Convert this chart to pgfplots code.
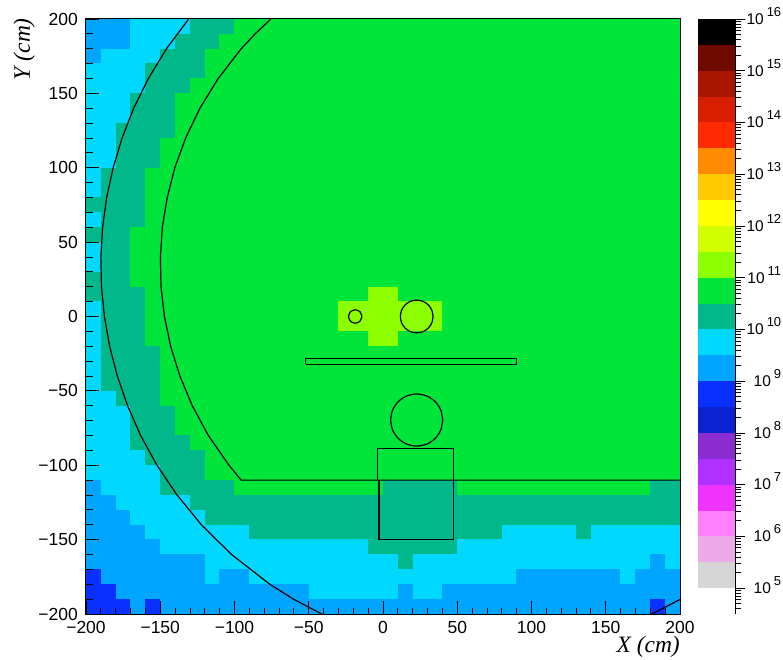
\documentclass[border=0pt]{standalone}
\usepackage{fontspec}
\setmainfont{Liberation Sans}
\newfontfamily\titlefont{Liberation Serif}
\usepackage{pgfplots}
\usepackage{pgfplotstable}
\pgfplotsset{compat=1.18}
\definecolor{b01}{RGB}{0,0,0}
\definecolor{b02}{RGB}{110,10,0}
\definecolor{b03}{RGB}{168,22,0}
\definecolor{b04}{RGB}{216,30,0}
\definecolor{b05}{RGB}{255,42,0}
\definecolor{b06}{RGB}{255,140,0}
\definecolor{b07}{RGB}{255,202,0}
\definecolor{b08}{RGB}{255,255,0}
\definecolor{b09}{RGB}{210,255,0}
\definecolor{b10}{RGB}{140,255,0}
\definecolor{b11}{RGB}{0,229,58}
\definecolor{b12}{RGB}{0,184,138}
\definecolor{b13}{RGB}{0,216,255}
\definecolor{b14}{RGB}{0,165,255}
\definecolor{b15}{RGB}{10,48,255}
\definecolor{b16}{RGB}{10,34,208}
\definecolor{b17}{RGB}{138,45,208}
\definecolor{b18}{RGB}{176,48,255}
\definecolor{b19}{RGB}{240,50,255}
\definecolor{b20}{RGB}{255,128,255}
\definecolor{b21}{RGB}{236,170,232}
\definecolor{b22}{RGB}{213,213,213}
\newcommand\dec[1]{\makebox[34pt][r]{10\hspace{3pt}\smash{\raisebox{8pt}{\fontsize{13}{13}\selectfont #1}}}}
\begin{document}
\begin{tikzpicture}
\path[use as bounding box] (0,0) rectangle (783pt,659pt);
\begin{axis}[
  at={(86pt,45pt)}, anchor=south west, scale only axis,
  width=594pt, height=595pt,
  xmin=-200, xmax=200, ymin=-200, ymax=200,
  xtick={-200,-150,-100,-50,0,50,100,150,200},
  xticklabels={−200,−150,−100,−50,0,50,100,150,200},
  ytick={-200,-150,-100,-50,0,50,100,150,200},
  yticklabels={−200,−150,−100,−50,0,50,100,150,200},
  minor x tick num=4, minor y tick num=4,
  xtick pos=bottom, ytick pos=left,
  tick align=inside,
  major tick length=13pt, minor tick length=6.5pt,
  tick style={black, line width=0.9pt},
  axis line style={black, line width=1pt},
  axis on top,
  ticklabel style={font=\fontsize{17.5}{18}\selectfont},
  xticklabel style={inner sep=0pt, yshift=-7pt},
  yticklabel style={inner sep=0pt, xshift=-8pt},
  xlabel={\titlefont\itshape X (cm)},
  ylabel={\titlefont\itshape Y (cm)},
  label style={font=\fontsize{23.5}{24}\selectfont, inner sep=0pt},
  xlabel style={at={(axis description cs:1,0)}, anchor=north east, yshift=-22pt},
  ylabel style={at={(axis description cs:0,1)}, anchor=south east, xshift=1pt, yshift=51pt},
  colormap={roots}{rgb255=(10,48,255) rgb255=(0,165,255) rgb255=(0,216,255) rgb255=(0,184,138) rgb255=(0,229,58) rgb255=(140,255,0)},
  colormap access=direct,
]
\addplot[matrix plot*, mesh/cols=40, mesh/ordering=x varies, point meta=explicit]
  table[row sep=\\, header=false, x expr={-195+10*mod(\coordindex,40)}, y expr={195-10*floor((\coordindex+0.5)/40)}, meta index=0] {
1\\1\\1\\2\\2\\2\\2\\3\\3\\3\\4\\4\\4\\4\\4\\4\\4\\4\\4\\4\\4\\4\\4\\4\\4\\4\\4\\4\\4\\4\\4\\4\\4\\4\\4\\4\\4\\4\\4\\4\\
1\\1\\1\\2\\2\\2\\3\\3\\3\\4\\4\\4\\4\\4\\4\\4\\4\\4\\4\\4\\4\\4\\4\\4\\4\\4\\4\\4\\4\\4\\4\\4\\4\\4\\4\\4\\4\\4\\4\\4\\
1\\2\\2\\2\\2\\3\\3\\3\\4\\4\\4\\4\\4\\4\\4\\4\\4\\4\\4\\4\\4\\4\\4\\4\\4\\4\\4\\4\\4\\4\\4\\4\\4\\4\\4\\4\\4\\4\\4\\4\\
2\\2\\2\\2\\3\\3\\3\\3\\4\\4\\4\\4\\4\\4\\4\\4\\4\\4\\4\\4\\4\\4\\4\\4\\4\\4\\4\\4\\4\\4\\4\\4\\4\\4\\4\\4\\4\\4\\4\\4\\
2\\2\\2\\2\\3\\3\\3\\4\\4\\4\\4\\4\\4\\4\\4\\4\\4\\4\\4\\4\\4\\4\\4\\4\\4\\4\\4\\4\\4\\4\\4\\4\\4\\4\\4\\4\\4\\4\\4\\4\\
2\\2\\2\\3\\3\\3\\4\\4\\4\\4\\4\\4\\4\\4\\4\\4\\4\\4\\4\\4\\4\\4\\4\\4\\4\\4\\4\\4\\4\\4\\4\\4\\4\\4\\4\\4\\4\\4\\4\\4\\
2\\2\\2\\3\\3\\3\\4\\4\\4\\4\\4\\4\\4\\4\\4\\4\\4\\4\\4\\4\\4\\4\\4\\4\\4\\4\\4\\4\\4\\4\\4\\4\\4\\4\\4\\4\\4\\4\\4\\4\\
2\\2\\3\\3\\3\\3\\4\\4\\4\\4\\4\\4\\4\\4\\4\\4\\4\\4\\4\\4\\4\\4\\4\\4\\4\\4\\4\\4\\4\\4\\4\\4\\4\\4\\4\\4\\4\\4\\4\\4\\
2\\2\\3\\3\\3\\4\\4\\4\\4\\4\\4\\4\\4\\4\\4\\4\\4\\4\\4\\4\\4\\4\\4\\4\\4\\4\\4\\4\\4\\4\\4\\4\\4\\4\\4\\4\\4\\4\\4\\4\\
2\\2\\3\\3\\3\\4\\4\\4\\4\\4\\4\\4\\4\\4\\4\\4\\4\\4\\4\\4\\4\\4\\4\\4\\4\\4\\4\\4\\4\\4\\4\\4\\4\\4\\4\\4\\4\\4\\4\\4\\
2\\3\\3\\3\\4\\4\\4\\4\\4\\4\\4\\4\\4\\4\\4\\4\\4\\4\\4\\4\\4\\4\\4\\4\\4\\4\\4\\4\\4\\4\\4\\4\\4\\4\\4\\4\\4\\4\\4\\4\\
2\\3\\3\\3\\4\\4\\4\\4\\4\\4\\4\\4\\4\\4\\4\\4\\4\\4\\4\\4\\4\\4\\4\\4\\4\\4\\4\\4\\4\\4\\4\\4\\4\\4\\4\\4\\4\\4\\4\\4\\
3\\3\\3\\3\\4\\4\\4\\4\\4\\4\\4\\4\\4\\4\\4\\4\\4\\4\\4\\4\\4\\4\\4\\4\\4\\4\\4\\4\\4\\4\\4\\4\\4\\4\\4\\4\\4\\4\\4\\4\\
2\\3\\3\\3\\4\\4\\4\\4\\4\\4\\4\\4\\4\\4\\4\\4\\4\\4\\4\\4\\4\\4\\4\\4\\4\\4\\4\\4\\4\\4\\4\\4\\4\\4\\4\\4\\4\\4\\4\\4\\
3\\3\\3\\4\\4\\4\\4\\4\\4\\4\\4\\4\\4\\4\\4\\4\\4\\4\\4\\4\\4\\4\\4\\4\\4\\4\\4\\4\\4\\4\\4\\4\\4\\4\\4\\4\\4\\4\\4\\4\\
2\\3\\3\\4\\4\\4\\4\\4\\4\\4\\4\\4\\4\\4\\4\\4\\4\\4\\4\\4\\4\\4\\4\\4\\4\\4\\4\\4\\4\\4\\4\\4\\4\\4\\4\\4\\4\\4\\4\\4\\
2\\3\\3\\4\\4\\4\\4\\4\\4\\4\\4\\4\\4\\4\\4\\4\\4\\4\\4\\4\\4\\4\\4\\4\\4\\4\\4\\4\\4\\4\\4\\4\\4\\4\\4\\4\\4\\4\\4\\4\\
3\\3\\3\\4\\4\\4\\4\\4\\4\\4\\4\\4\\4\\4\\4\\4\\4\\4\\4\\4\\4\\4\\4\\4\\4\\4\\4\\4\\4\\4\\4\\4\\4\\4\\4\\4\\4\\4\\4\\4\\
3\\3\\3\\3\\4\\4\\4\\4\\4\\4\\4\\4\\4\\4\\4\\4\\4\\4\\4\\5\\5\\4\\4\\4\\4\\4\\4\\4\\4\\4\\4\\4\\4\\4\\4\\4\\4\\4\\4\\4\\
2\\3\\3\\3\\4\\4\\4\\4\\4\\4\\4\\4\\4\\4\\4\\4\\4\\5\\5\\5\\5\\5\\5\\5\\4\\4\\4\\4\\4\\4\\4\\4\\4\\4\\4\\4\\4\\4\\4\\4\\
2\\3\\3\\3\\4\\4\\4\\4\\4\\4\\4\\4\\4\\4\\4\\4\\4\\5\\5\\5\\5\\5\\5\\5\\4\\4\\4\\4\\4\\4\\4\\4\\4\\4\\4\\4\\4\\4\\4\\4\\
2\\3\\3\\3\\4\\4\\4\\4\\4\\4\\4\\4\\4\\4\\4\\4\\4\\4\\4\\5\\5\\4\\4\\4\\4\\4\\4\\4\\4\\4\\4\\4\\4\\4\\4\\4\\4\\4\\4\\4\\
2\\3\\3\\3\\3\\4\\4\\4\\4\\4\\4\\4\\4\\4\\4\\4\\4\\4\\4\\4\\4\\4\\4\\4\\4\\4\\4\\4\\4\\4\\4\\4\\4\\4\\4\\4\\4\\4\\4\\4\\
2\\3\\3\\3\\3\\4\\4\\4\\4\\4\\4\\4\\4\\4\\4\\4\\4\\4\\4\\4\\4\\4\\4\\4\\4\\4\\4\\4\\4\\4\\4\\4\\4\\4\\4\\4\\4\\4\\4\\4\\
2\\3\\3\\3\\3\\4\\4\\4\\4\\4\\4\\4\\4\\4\\4\\4\\4\\4\\4\\4\\4\\4\\4\\4\\4\\4\\4\\4\\4\\4\\4\\4\\4\\4\\4\\4\\4\\4\\4\\4\\
2\\2\\3\\3\\3\\4\\4\\4\\4\\4\\4\\4\\4\\4\\4\\4\\4\\4\\4\\4\\4\\4\\4\\4\\4\\4\\4\\4\\4\\4\\4\\4\\4\\4\\4\\4\\4\\4\\4\\4\\
2\\2\\2\\3\\3\\3\\4\\4\\4\\4\\4\\4\\4\\4\\4\\4\\4\\4\\4\\4\\4\\4\\4\\4\\4\\4\\4\\4\\4\\4\\4\\4\\4\\4\\4\\4\\4\\4\\4\\4\\
2\\2\\2\\3\\3\\3\\4\\4\\4\\4\\4\\4\\4\\4\\4\\4\\4\\4\\4\\4\\4\\4\\4\\4\\4\\4\\4\\4\\4\\4\\4\\4\\4\\4\\4\\4\\4\\4\\4\\4\\
2\\2\\2\\3\\3\\3\\3\\4\\4\\4\\4\\4\\4\\4\\4\\4\\4\\4\\4\\4\\4\\4\\4\\4\\4\\4\\4\\4\\4\\4\\4\\4\\4\\4\\4\\4\\4\\4\\4\\4\\
2\\2\\2\\2\\3\\3\\3\\3\\4\\4\\4\\4\\4\\4\\4\\4\\4\\4\\4\\4\\4\\4\\4\\4\\4\\4\\4\\4\\4\\4\\4\\4\\4\\4\\4\\4\\4\\4\\4\\4\\
2\\2\\2\\2\\2\\3\\3\\3\\4\\4\\4\\4\\4\\4\\4\\4\\4\\4\\4\\4\\4\\4\\4\\4\\4\\4\\4\\4\\4\\4\\4\\4\\4\\4\\4\\4\\4\\4\\4\\4\\
1\\2\\2\\2\\2\\3\\3\\3\\3\\3\\4\\4\\4\\4\\4\\4\\4\\4\\4\\4\\3\\3\\3\\3\\3\\4\\4\\4\\4\\4\\4\\4\\4\\4\\4\\4\\4\\4\\3\\3\\
1\\1\\2\\2\\2\\2\\2\\3\\3\\3\\3\\3\\3\\3\\3\\3\\3\\3\\3\\3\\3\\3\\3\\3\\3\\3\\3\\3\\3\\3\\3\\3\\3\\3\\3\\3\\3\\3\\3\\3\\
1\\1\\1\\2\\2\\2\\2\\2\\3\\3\\3\\3\\3\\3\\3\\3\\3\\3\\3\\3\\3\\3\\3\\3\\3\\3\\3\\3\\3\\3\\3\\3\\3\\3\\3\\3\\3\\3\\3\\3\\
1\\1\\1\\1\\2\\2\\2\\2\\2\\2\\2\\3\\3\\3\\3\\3\\3\\3\\3\\3\\3\\3\\3\\3\\3\\3\\3\\3\\2\\2\\2\\2\\2\\3\\2\\2\\2\\2\\2\\2\\
1\\1\\1\\1\\1\\2\\2\\2\\2\\2\\2\\2\\2\\2\\2\\2\\2\\2\\2\\3\\3\\3\\3\\3\\3\\2\\2\\2\\2\\2\\2\\2\\2\\2\\2\\2\\2\\2\\2\\2\\
1\\1\\1\\1\\1\\1\\1\\1\\2\\2\\2\\2\\2\\2\\2\\2\\2\\2\\2\\2\\2\\3\\2\\2\\2\\2\\2\\2\\2\\2\\2\\2\\2\\2\\2\\2\\2\\2\\1\\2\\
0\\1\\1\\1\\1\\1\\1\\1\\2\\1\\1\\2\\2\\2\\2\\2\\2\\2\\2\\2\\2\\2\\2\\2\\2\\2\\2\\2\\2\\1\\1\\1\\1\\1\\1\\1\\2\\1\\1\\1\\
0\\0\\1\\1\\1\\1\\1\\1\\1\\1\\1\\1\\1\\1\\1\\2\\2\\2\\2\\2\\2\\1\\2\\2\\1\\1\\1\\1\\1\\1\\1\\1\\1\\1\\1\\1\\1\\1\\1\\1\\
0\\0\\0\\1\\0\\1\\1\\1\\1\\1\\1\\1\\1\\1\\1\\1\\1\\1\\1\\1\\1\\1\\1\\1\\1\\1\\1\\1\\1\\1\\1\\1\\1\\1\\1\\1\\1\\1\\0\\1\\
};
% outer boundary
\addplot[black, line width=1.2pt] coordinates {(-130.9,200)(-145.8,180)(-158.0,160)(-167.9,140)(-175.7,120)(-181.7,100)(-186.1,80)(-188.8,60)(-190.0,40)(-189.6,20)(-187.6,0)(-184.1,-20)(-178.9,-40)(-172.0,-60)(-163.2,-80)(-152.2,-100)(-138.7,-120)(-122.3,-140)(-102.0,-160)(-76.2,-180)(-60.3,-190)(-41.2,-200)};
\addplot[black, line width=1.2pt] coordinates {(181.2,-200)(200,-190.2)};
% inner boundary with floor
\addplot[black, line width=1.2pt] coordinates {(-75.5,200)(-86.1,190)(-95.5,180)(-111.0,160)(-123.3,140)(-132.9,120)(-140.2,100)(-145.3,80)(-148.6,60)(-149.9,40)(-149.5,20)(-147.2,0)(-143.0,-20)(-136.8,-40)(-128.4,-60)(-117.6,-80)(-103.7,-100)(-95.5,-110)(200,-110)};
% bar and boxes
\addplot[black, line width=1.2pt] coordinates {(-52,-32)(90,-32)(90,-28)(-52,-28)(-52,-32)};
\addplot[black, line width=1.2pt] coordinates {(-3.5,-110)(-3.5,-89)(47.5,-89)(47.5,-110)};
\addplot[black, line width=1.2pt] coordinates {(-2.7,-110)(-2.7,-150)(47.5,-150)(47.5,-110)};
% circles
\addplot[black, line width=1.2pt, smooth] coordinates {(40.2,-69.6)(38.9,-62.9)(35.1,-57.2)(29.4,-53.4)(22.7,-52.1)(16.0,-53.4)(10.3,-57.2)(6.5,-62.9)(5.2,-69.6)(6.5,-76.3)(10.3,-82.0)(16.0,-85.8)(22.7,-87.1)(29.4,-85.8)(35.1,-82.0)(38.9,-76.3)(40.2,-69.6)};
\addplot[black, line width=1.2pt, smooth] coordinates {(33.7,0)(32.9,4.2)(30.5,7.8)(26.9,10.2)(22.7,11)(18.5,10.2)(14.9,7.8)(12.5,4.2)(11.7,0)(12.5,-4.2)(14.9,-7.8)(18.5,-10.2)(22.7,-11)(26.9,-10.2)(30.5,-7.8)(32.9,-4.2)(33.7,0)};
\addplot[black, line width=1.2pt, smooth] coordinates {(-14.2,0)(-15.5,3.2)(-18.7,4.5)(-21.9,3.2)(-23.2,0)(-21.9,-3.2)(-18.7,-4.5)(-15.5,-3.2)(-14.2,0)};
\end{axis}
\begin{axis}[
  at={(697.7pt,45pt)}, anchor=south west, scale only axis,
  width=37.3pt, height=595pt,
  xmin=0, xmax=1, ymode=log, ymin=3.1623e4, ymax=1e16,
  axis x line=none, axis y line*=right,
  ytick={1e5,1e6,1e7,1e8,1e9,1e10,1e11,1e12,1e13,1e14,1e15,1e16},
  yticklabels={\dec{5},\dec{6},\dec{7},\dec{8},\dec{9},\dec{10},\dec{11},\dec{12},\dec{13},\dec{14},\dec{15},\dec{16}},
  minor ytick={4e4,5e4,6e4,7e4,8e4,9e4,
    2e5,3e5,4e5,5e5,6e5,7e5,8e5,9e5,2e6,3e6,4e6,5e6,6e6,7e6,8e6,9e6,
    2e7,3e7,4e7,5e7,6e7,7e7,8e7,9e7,2e8,3e8,4e8,5e8,6e8,7e8,8e8,9e8,
    2e9,3e9,4e9,5e9,6e9,7e9,8e9,9e9,2e10,3e10,4e10,5e10,6e10,7e10,8e10,9e10,
    2e11,3e11,4e11,5e11,6e11,7e11,8e11,9e11,2e12,3e12,4e12,5e12,6e12,7e12,8e12,9e12,
    2e13,3e13,4e13,5e13,6e13,7e13,8e13,9e13,2e14,3e14,4e14,5e14,6e14,7e14,8e14,9e14,
    2e15,3e15,4e15,5e15,6e15,7e15,8e15,9e15},
  tick align=outside,
  major tick length=10pt, minor tick length=5.5pt,
  tick style={black, line width=0.8pt},
  axis line style={black, line width=1pt},
  ticklabel style={font=\fontsize{15.5}{16}\selectfont},
  yticklabel style={anchor=west, inner sep=0pt, xshift=2pt},
]
\addplot[fill=b01, draw=none] coordinates {(0,3.1623e15)(1,3.1623e15)(1,1e16)(0,1e16)} --cycle;
\addplot[fill=b02, draw=none] coordinates {(0,1e15)(1,1e15)(1,3.1623e15)(0,3.1623e15)} --cycle;
\addplot[fill=b03, draw=none] coordinates {(0,3.1623e14)(1,3.1623e14)(1,1e15)(0,1e15)} --cycle;
\addplot[fill=b04, draw=none] coordinates {(0,1e14)(1,1e14)(1,3.1623e14)(0,3.1623e14)} --cycle;
\addplot[fill=b05, draw=none] coordinates {(0,3.1623e13)(1,3.1623e13)(1,1e14)(0,1e14)} --cycle;
\addplot[fill=b06, draw=none] coordinates {(0,1e13)(1,1e13)(1,3.1623e13)(0,3.1623e13)} --cycle;
\addplot[fill=b07, draw=none] coordinates {(0,3.1623e12)(1,3.1623e12)(1,1e13)(0,1e13)} --cycle;
\addplot[fill=b08, draw=none] coordinates {(0,1e12)(1,1e12)(1,3.1623e12)(0,3.1623e12)} --cycle;
\addplot[fill=b09, draw=none] coordinates {(0,3.1623e11)(1,3.1623e11)(1,1e12)(0,1e12)} --cycle;
\addplot[fill=b10, draw=none] coordinates {(0,1e11)(1,1e11)(1,3.1623e11)(0,3.1623e11)} --cycle;
\addplot[fill=b11, draw=none] coordinates {(0,3.1623e10)(1,3.1623e10)(1,1e11)(0,1e11)} --cycle;
\addplot[fill=b12, draw=none] coordinates {(0,1e10)(1,1e10)(1,3.1623e10)(0,3.1623e10)} --cycle;
\addplot[fill=b13, draw=none] coordinates {(0,3.1623e9)(1,3.1623e9)(1,1e10)(0,1e10)} --cycle;
\addplot[fill=b14, draw=none] coordinates {(0,1e9)(1,1e9)(1,3.1623e9)(0,3.1623e9)} --cycle;
\addplot[fill=b15, draw=none] coordinates {(0,3.1623e8)(1,3.1623e8)(1,1e9)(0,1e9)} --cycle;
\addplot[fill=b16, draw=none] coordinates {(0,1e8)(1,1e8)(1,3.1623e8)(0,3.1623e8)} --cycle;
\addplot[fill=b17, draw=none] coordinates {(0,3.1623e7)(1,3.1623e7)(1,1e8)(0,1e8)} --cycle;
\addplot[fill=b18, draw=none] coordinates {(0,1e7)(1,1e7)(1,3.1623e7)(0,3.1623e7)} --cycle;
\addplot[fill=b19, draw=none] coordinates {(0,3.1623e6)(1,3.1623e6)(1,1e7)(0,1e7)} --cycle;
\addplot[fill=b20, draw=none] coordinates {(0,1e6)(1,1e6)(1,3.1623e6)(0,3.1623e6)} --cycle;
\addplot[fill=b21, draw=none] coordinates {(0,3.1623e5)(1,3.1623e5)(1,1e6)(0,1e6)} --cycle;
\addplot[fill=b22, draw=none] coordinates {(0,1e5)(1,1e5)(1,3.1623e5)(0,3.1623e5)} --cycle;
\end{axis}
\end{tikzpicture}
\end{document}
